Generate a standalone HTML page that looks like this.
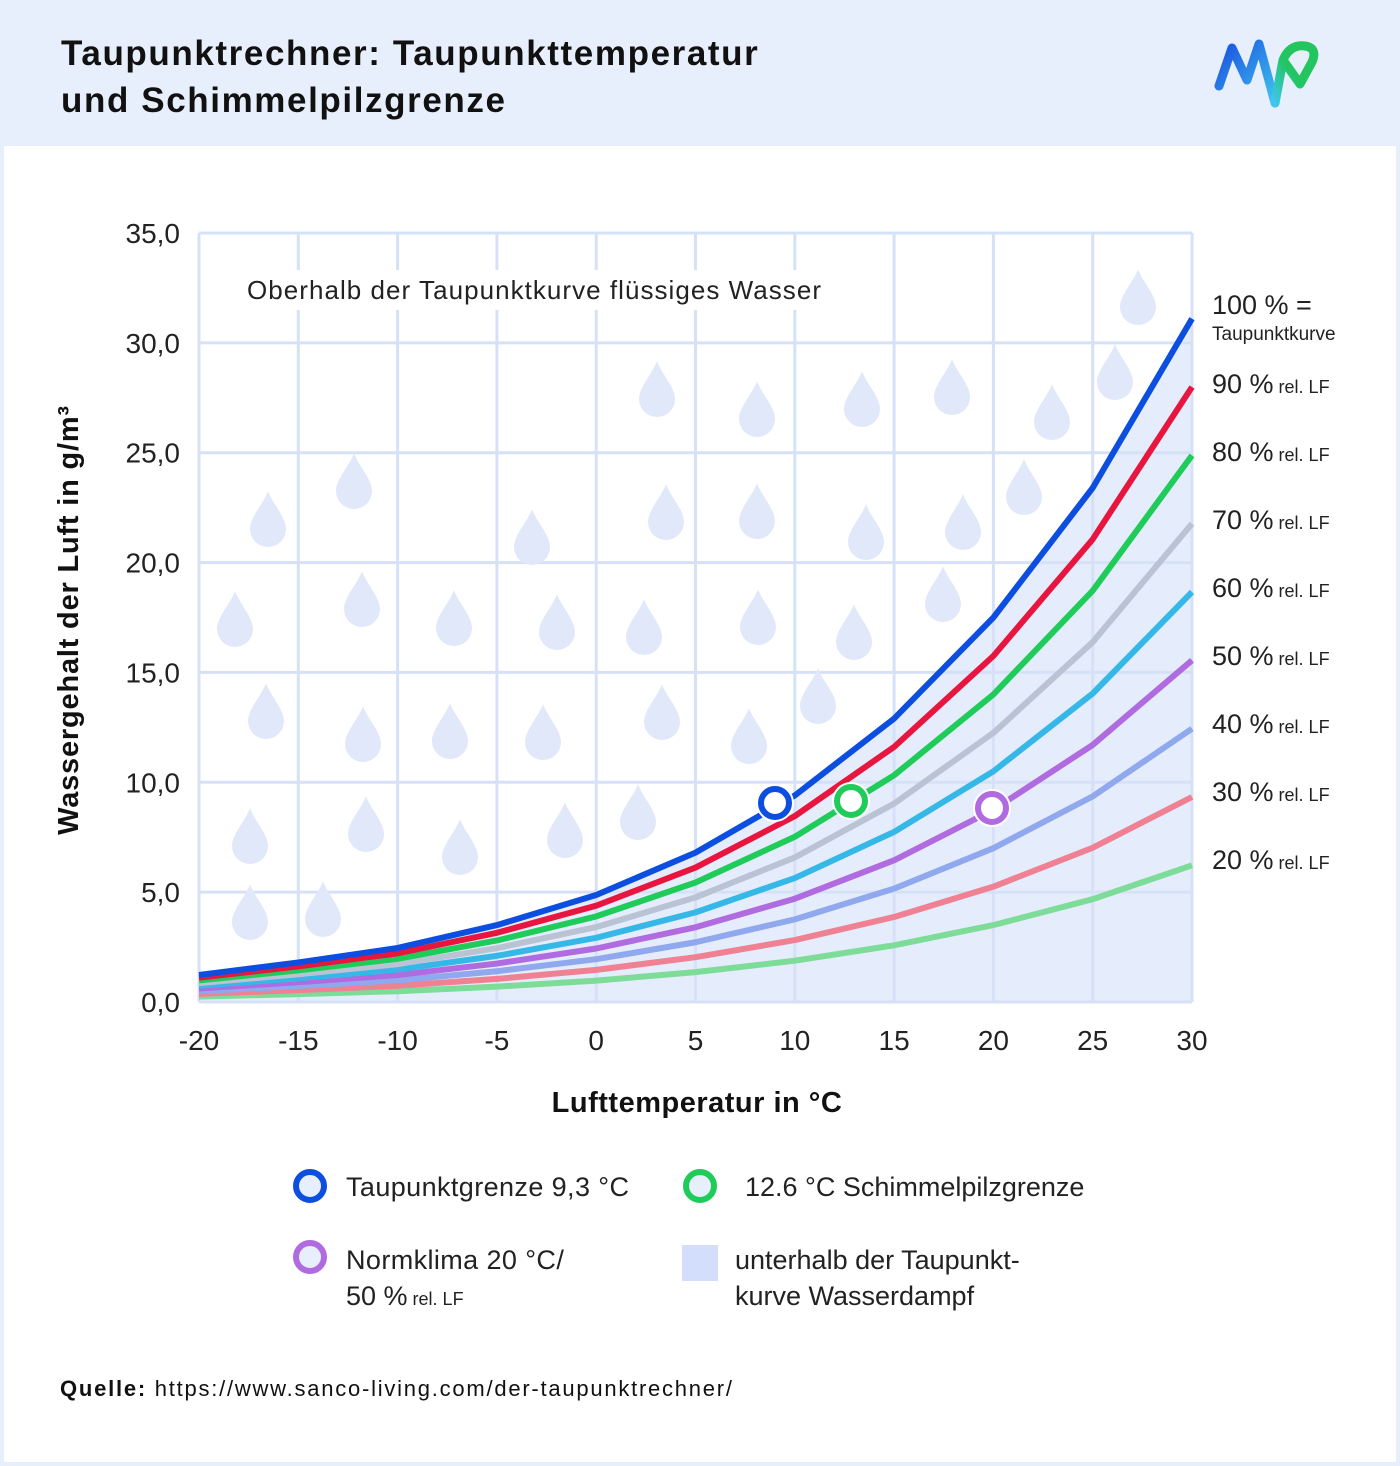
<!DOCTYPE html>
<html><head><meta charset="utf-8">
<style>
html,body{margin:0;padding:0}
body{width:1400px;height:1466px;background:#e8effc;font-family:"Liberation Sans",sans-serif;position:relative;overflow:hidden}
.card{position:absolute;left:4px;top:146px;width:1392px;height:1316px;background:#fff}
.title{position:absolute;left:61px;top:30px;font-size:35px;font-weight:bold;line-height:47px;color:#111;letter-spacing:1.6px}
svg{position:absolute;left:0;top:0}
</style></head><body>
<div class="card"></div>
<div class="title">Taupunktrechner: Taupunkttemperatur<br>und Schimmelpilzgrenze</div>
<svg width="1400" height="1466" id="s" font-family="Liberation Sans, sans-serif">
<defs>
<linearGradient id="lg1" x1="0" y1="0" x2="1" y2="1"><stop offset="0" stop-color="#1a4fe0"/><stop offset="1" stop-color="#3ec6ee"/></linearGradient>
<linearGradient id="lg2" x1="0" y1="1" x2="1" y2="0"><stop offset="0" stop-color="#3ec6ee"/><stop offset="0.5" stop-color="#22c55e"/><stop offset="1" stop-color="#22c55e"/></linearGradient>
</defs>
<g id="logo" fill="none" stroke-linecap="round" stroke-linejoin="round" stroke-width="9">
<path d="M1219,86 L1232,48 L1247,80 L1259,44 L1275,103" stroke="url(#lg1)"/>
<path d="M1275,103 L1283,60 Q1290,44 1305,46 Q1318,48 1312,62 L1300,84 L1283,60" stroke="url(#lg2)"/>
</g>
<g id="plot"></g>
</svg>
<script>
const X=t=>199+(t+20)*993/50, Y=v=>1002-v*769/35;
const T=[-20,-15,-10,-5,0,5,10,15,20,25,30];
const S=[1.23,1.8,2.46,3.5,4.87,6.8,9.4,12.9,17.5,23.4,31.1];
let h='';
h+='<path d="M199,1002 '+T.map((t,i)=>'L'+X(t)+','+Y(S[i])).join(' ')+' L1192,1002Z" fill="#e5ecfb"/>';
for(let t=-20;t<=30;t+=5)h+=`<line x1="${X(t)}" y1="233" x2="${X(t)}" y2="1002" stroke="#d6e1f8" stroke-width="3"/>`;
for(let v=0;v<=35;v+=5)h+=`<line x1="199" y1="${Y(v)}" x2="1192" y2="${Y(v)}" stroke="#d6e1f8" stroke-width="3"/>`;
const D=[[657,395],[757,415],[862,405],[952,393],[1052,418],[1138,303],[1115,378],[354,487],[268,525],[666,518],[757,517],[866,538],[963,528],[1024,493],[532,543],[235,625],[362,605],[454,624],[557,628],[644,633],[758,623],[854,638],[943,600],[266,717],[363,740],[450,737],[543,738],[662,718],[749,742],[818,702],[250,842],[366,830],[460,853],[565,836],[638,818],[250,918],[323,915]];
D.forEach(([x,y])=>{h+=`<path d="M${x},${y-34} C${x+4},${y-22} ${x+18},${y-8} ${x+18},${y+4} A18,18 0 0 1 ${x-18},${y+4} C${x-18},${y-8} ${x-4},${y-22} ${x},${y-34}Z" fill="#e1e8f9"/>`;});
h+='<rect x="238" y="270" width="592" height="40" fill="#fff"/>';
h+='<text x="247" y="299" font-size="26" fill="#222" textLength="574">Oberhalb der Taupunktkurve flüssiges Wasser</text>';
const C=[[1,'#0b4ee0'],[.9,'#e8163f'],[.8,'#1fcc5a'],[.7,'#b9c3d3'],[.6,'#35b8e8'],[.5,'#b06be0'],[.4,'#8fa8ee'],[.3,'#ef8193'],[.2,'#7ddc98']];
C.slice().reverse().forEach(([p,c])=>{h+=`<polyline fill="none" stroke="${c}" stroke-width="6" stroke-linejoin="round" points="${T.map((t,i)=>X(t)+','+Y(S[i]*p)).join(' ')}"/>`;});
[[775,803,'#0b4ee0'],[851,801,'#1fcc5a'],[992,808,'#b06be0']].forEach(([x,y,c])=>{h+=`<circle cx="${x}" cy="${y}" r="19" fill="#fff"/><circle cx="${x}" cy="${y}" r="14" fill="#fff" stroke="${c}" stroke-width="6"/>`;});
for(let v=0;v<=35;v+=5)h+=`<text x="180" y="${Y(v)+10}" font-size="28" text-anchor="end" fill="#222">${v},0</text>`;
for(let t=-20;t<=30;t+=5)h+=`<text x="${X(t)}" y="1050" font-size="28" text-anchor="middle" fill="#222">${t}</text>`;
h+='<text x="697" y="1112" font-size="29" font-weight="bold" text-anchor="middle" fill="#111" letter-spacing="0.5">Lufttemperatur in °C</text>';
h+='<text transform="translate(78,620) rotate(-90)" font-size="29" font-weight="bold" text-anchor="middle" fill="#111" letter-spacing="0.8">Wassergehalt der Luft in g/m³</text>';
h+='<text x="1212" y="314" font-size="27" fill="#222">100 % =</text><text x="1212" y="340" font-size="19" fill="#222">Taupunktkurve</text>';
[90,80,70,60,50,40,30,20].forEach((p,i)=>{h+=`<text x="1212" y="${393+i*68}" font-size="27" fill="#222">${p} %<tspan font-size="18"> rel. LF</tspan></text>`;});
h+='<circle cx="310" cy="1186" r="14" fill="#e8effc" stroke="#0b4ee0" stroke-width="6"/><text x="346" y="1196" font-size="27" fill="#222" letter-spacing="0.4">Taupunktgrenze 9,3 °C</text>';
h+='<circle cx="700" cy="1186" r="14" fill="#e8effc" stroke="#1fcc5a" stroke-width="6"/><text x="745" y="1196" font-size="27" fill="#222">12.6 °C Schimmelpilzgrenze</text>';
h+='<circle cx="310" cy="1257" r="14" fill="#e8effc" stroke="#b06be0" stroke-width="6"/><text x="346" y="1269" font-size="27" fill="#222" letter-spacing="0.4">Normklima 20 °C/</text><text x="346" y="1305" font-size="27" fill="#222">50 %<tspan font-size="18"> rel. LF</tspan></text>';
h+='<rect x="682" y="1245" width="36" height="36" fill="#d3dffa"/><text x="735" y="1269" font-size="27" fill="#222">unterhalb der Taupunkt-</text><text x="735" y="1305" font-size="27" fill="#222">kurve Wasserdampf</text>';
h+='<text x="60" y="1396" font-size="22" fill="#111" textLength="672"><tspan font-weight="bold">Quelle:</tspan> https://www.sanco-living.com/der-taupunktrechner/</text>';
document.getElementById('plot').innerHTML=h;
</script>
</body></html>
